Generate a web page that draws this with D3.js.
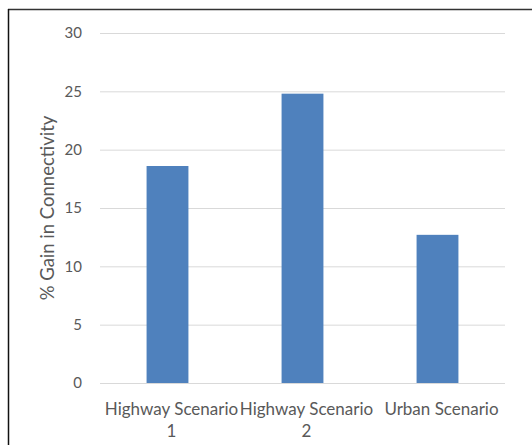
<!DOCTYPE html>
<html>
<head>
<meta charset="utf-8">
<script src="https://cdn.jsdelivr.net/npm/d3@7"></script>
<style>
  html, body { margin: 0; padding: 0; background: #fff; }
  svg { display: block; }
  text { font-family: Lato, "Open Sans", sans-serif; fill: #595959; }
</style>
</head>
<body>
<svg id="chart" width="532" height="445"></svg>
<script>
// Connectivity gain per scenario
const categories = [["Highway Scenario", "1"], ["Highway Scenario", "2"], ["Urban Scenario"]];
const gains = [18.6, 24.8, 12.7];
const yTicks = [0, 5, 10, 15, 20, 25, 30];
const yLabel = "% Gain in Connectivity";

const svg = d3.select("#chart");
const W = 532, H = 445;
const plot = { left: 100, right: 505, top: 33, bottom: 383 };

// outer frame (only top and left edges fall inside the view)
svg.append("line").attr("x1", 8).attr("x2", W).attr("y1", 9.5).attr("y2", 9.5)
  .attr("stroke", "#333").attr("stroke-width", 1.5);
svg.append("line").attr("x1", 8.5).attr("x2", 8.5).attr("y1", 9).attr("y2", H)
  .attr("stroke", "#111").attr("stroke-width", 1.5);

const x = d3.scaleBand()
  .domain(d3.range(categories.length))
  .range([plot.left, plot.right])
  .paddingInner(0.69).paddingOuter(0.345);

const y = d3.scaleLinear().domain([0, 30]).range([plot.bottom, plot.top]);

// gridlines and y tick labels
const yAxis = d3.axisLeft(y).tickValues(yTicks)
  .tickSize(-(plot.right - plot.left)).tickPadding(18);
const gy = svg.append("g").attr("transform", `translate(${plot.left},0)`).call(yAxis);
gy.select(".domain").remove();
gy.selectAll(".tick line").attr("stroke", "#d9d9d9").attr("stroke-width", 1);
gy.selectAll(".tick text").attr("font-size", 15).attr("fill", "#595959")
  .style("font-family", 'Lato, "Open Sans", sans-serif');

// bars
svg.append("g").selectAll("rect").data(gains).join("rect")
  .attr("x", (d, i) => x(i))
  .attr("width", x.bandwidth())
  .attr("y", d => y(d))
  .attr("height", d => y(0) - y(d))
  .attr("fill", "#4f81bd");

// category labels (wrapped)
const gx = svg.append("g");
categories.forEach((lines, i) => {
  const cx = x(i) + x.bandwidth() / 2 + 4;
  const t = gx.append("text").attr("text-anchor", "middle").attr("font-size", 17);
  lines.forEach((s, k) => {
    t.append("tspan").attr("x", cx).attr("y", 415 + k * 22).text(s);
  });
});

// y axis title
svg.append("text")
  .attr("transform", `translate(54,${(plot.top + plot.bottom) / 2}) rotate(-90)`)
  .attr("text-anchor", "middle")
  .attr("font-size", 18.5)
  .text(yLabel);
</script>
</body>
</html>
